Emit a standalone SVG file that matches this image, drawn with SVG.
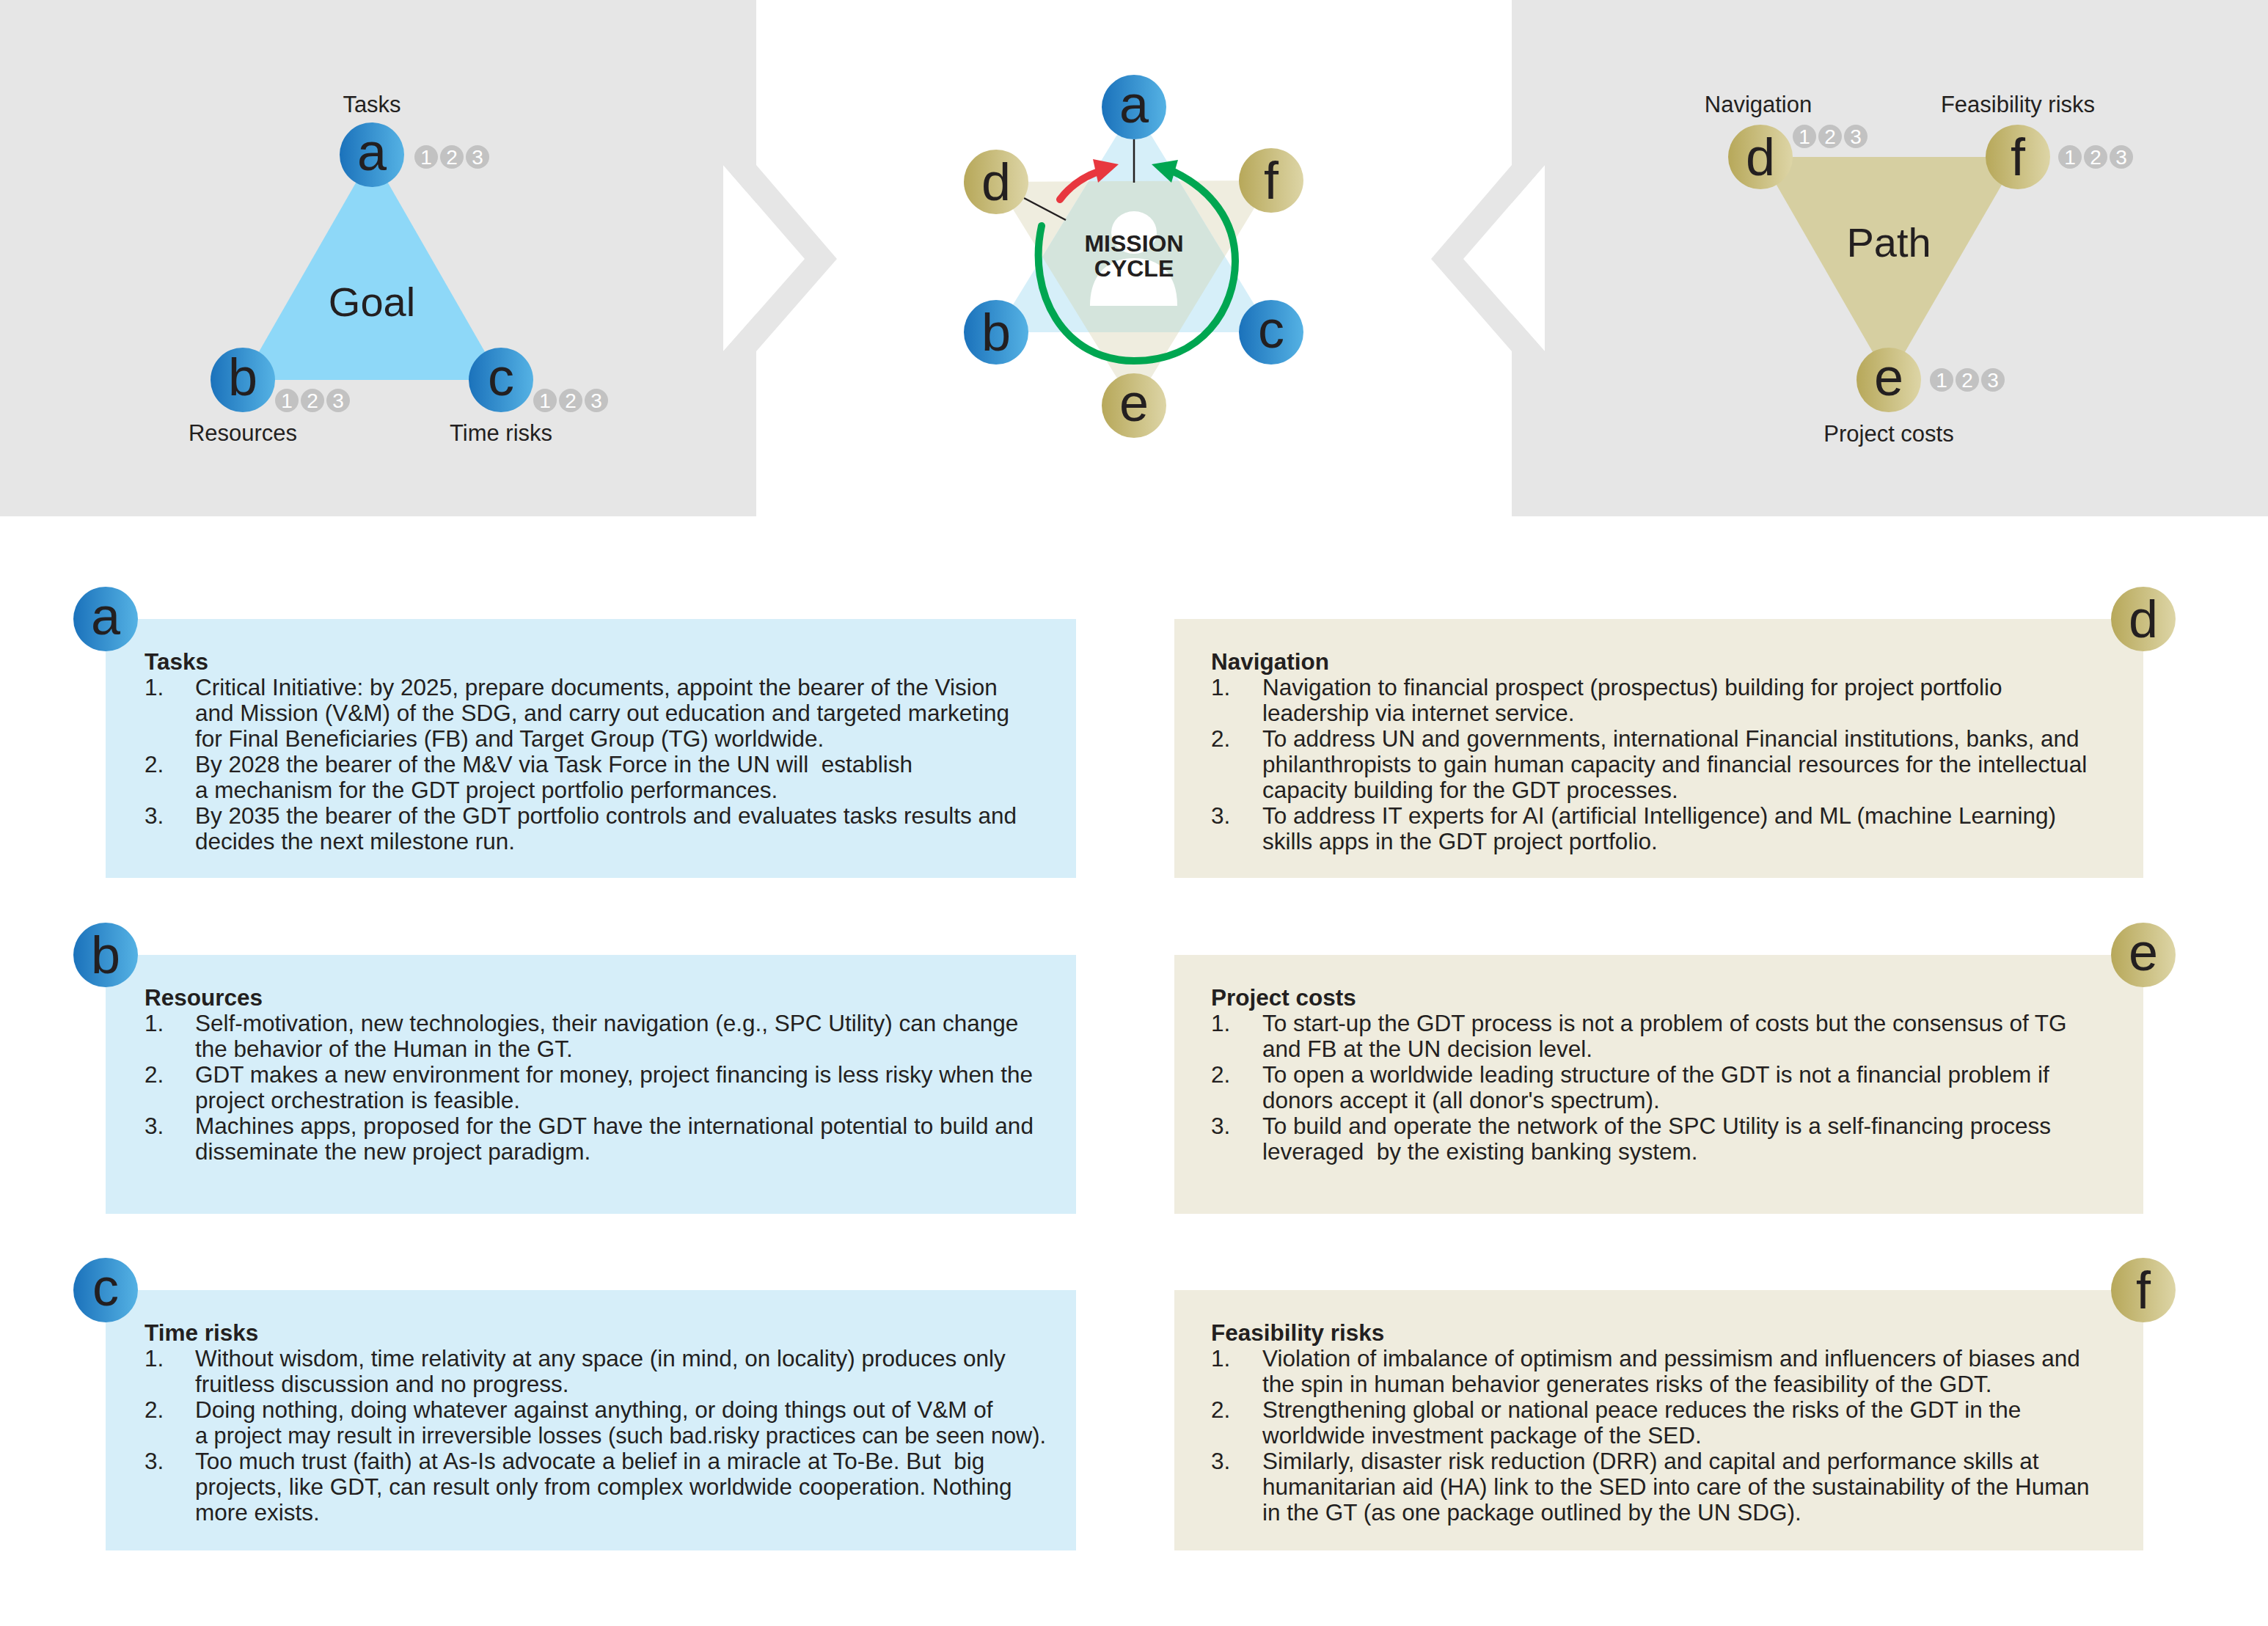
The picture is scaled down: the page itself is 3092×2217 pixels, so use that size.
<svg xmlns="http://www.w3.org/2000/svg" width="3092" height="2217" viewBox="0 0 3092 2217">
<style>
text{font-family:"Liberation Sans",Arial,sans-serif;fill:#231f20}
.lt{font-size:72px;text-anchor:middle}
.lab{font-size:31px;text-anchor:middle}
.big{font-size:56px;text-anchor:middle}
.bd{fill:#c2c2c2}
.bn{font-size:28px;fill:#fff;text-anchor:middle}
.body{font-size:31.5px}
.hd{font-size:31.5px;font-weight:bold}
.mc{font-size:32px;font-weight:bold;text-anchor:middle}
</style>
<defs>
<linearGradient id="gb" x1="0" y1="0" x2="1" y2="0"><stop offset="0" stop-color="#1b72bb"/><stop offset="1" stop-color="#55b2e4"/></linearGradient>
<linearGradient id="gy" x1="0" y1="0" x2="1" y2="0"><stop offset="0" stop-color="#b7a85a"/><stop offset="1" stop-color="#ddd5a6"/></linearGradient>
<clipPath id="cab"><polygon points="1546,146 1358,453 1733,453"/></clipPath>
<g id="b3"><circle class="bd" cx="0" cy="0" r="16"/><circle class="bd" cx="35" cy="0" r="16"/><circle class="bd" cx="70" cy="0" r="16"/><text class="bn" x="0" y="10">1</text><text class="bn" x="35" y="10">2</text><text class="bn" x="70" y="10">3</text></g>
</defs>
<rect width="3092" height="2217" fill="#fff"/>
<rect x="0" y="0" width="1031" height="704" fill="#e6e6e6"/>
<polygon points="986,225 1097,353 986,479" fill="#fff"/>
<polygon points="986,225 1031,225 1141,353 1031,479 986,479 1097,353" fill="#e6e6e6"/>
<rect x="2061" y="0" width="1031" height="704" fill="#e6e6e6"/>
<polygon points="2106,225 1995,353 2106,479" fill="#fff"/>
<polygon points="2106,225 2061,225 1951,353 2061,479 2106,479 1995,353" fill="#e6e6e6"/>
<g id="goal"><polygon points="507,211 331,518 683,518" fill="#8ed8f8"/><text class="big" x="507" y="431">Goal</text></g>
<g id="path"><polygon points="2400,214 2751,214 2575,518" fill="#d6cfa1"/><text class="big" x="2575" y="350">Path</text></g>
<g id="tL"><circle cx="507" cy="211" r="44" fill="url(#gb)"/><text class="lt" x="507" y="232">a</text><text class="lab" x="507" y="153">Tasks</text><use href="#b3" x="581" y="214"/></g>
<g id="tLb"><circle cx="331" cy="518" r="44" fill="url(#gb)"/><text class="lt" x="331" y="539">b</text><text class="lab" x="331" y="601">Resources</text><use href="#b3" x="391" y="546"/></g>
<g id="tLc"><circle cx="683" cy="518" r="44" fill="url(#gb)"/><text class="lt" x="683" y="539">c</text><text class="lab" x="683" y="601">Time risks</text><use href="#b3" x="743" y="546"/></g>
<g id="tRd"><circle cx="2400" cy="214" r="44" fill="url(#gy)"/><text class="lt" x="2400" y="239">d</text><text class="lab" x="2397" y="153">Navigation</text><use href="#b3" x="2460" y="186"/></g>
<g id="tRf"><circle cx="2751" cy="214" r="44" fill="url(#gy)"/><text class="lt" x="2751" y="239">f</text><text class="lab" x="2751" y="153">Feasibility risks</text><use href="#b3" x="2822" y="214"/></g>
<g id="tRe"><circle cx="2575" cy="518" r="44" fill="url(#gy)"/><text class="lt" x="2575" y="539">e</text><text class="lab" x="2575" y="602">Project costs</text><use href="#b3" x="2647" y="518"/></g>
<g id="mission">
<polygon points="1358,248 1733,246 1546,553" fill="#efeddf"/>
<polygon points="1546,146 1358,453 1733,453" fill="#d6eff9"/>
<polygon points="1358,248 1733,246 1546,553" fill="#d4e4dc" clip-path="url(#cab)"/>
<ellipse cx="1546" cy="317" rx="31" ry="29" fill="#fff"/>
<path d="M1486 417 C1486 372 1512 352 1546 352 C1580 352 1605 372 1605 417 Z" fill="#fff"/>
<text class="mc" x="1546" y="343">MISSION</text>
<text class="mc" x="1546" y="377">CYCLE</text>
</g>
<g id="connectors">
<line x1="1546" y1="190" x2="1546" y2="249" stroke="#231f20" stroke-width="2.5"/>
<line x1="1396" y1="270" x2="1453" y2="300" stroke="#231f20" stroke-width="2.5"/>
<path d="M1445 272 Q1465 245 1500 233" fill="none" stroke="#e8373f" stroke-width="10" stroke-linecap="round"/>
<polygon points="1490,217 1525,224 1497,249" fill="#e8373f"/>
<path d="M1420 308 C1400 400 1450 492 1546 492 C1640 492 1684 420 1684 356 C1684 300 1650 258 1600 234" fill="none" stroke="#00a651" stroke-width="10" stroke-linecap="round"/>
<polygon points="1570,224 1606,218 1597,249" fill="#00a651"/>
</g>
<g id="mnodes">
<g id="ma"><circle cx="1546" cy="146" r="44" fill="url(#gb)"/><text class="lt" x="1546" y="167">a</text></g>
<g id="mb"><circle cx="1358" cy="453" r="44" fill="url(#gb)"/><text class="lt" x="1358" y="478">b</text></g>
<g id="mc"><circle cx="1733" cy="453" r="44" fill="url(#gb)"/><text class="lt" x="1733" y="474">c</text></g>
<g id="md"><circle cx="1358" cy="248" r="44" fill="url(#gy)"/><text class="lt" x="1358" y="273">d</text></g>
<g id="mf"><circle cx="1733" cy="246" r="44" fill="url(#gy)"/><text class="lt" x="1733" y="271">f</text></g>
<g id="me"><circle cx="1546" cy="553" r="44" fill="url(#gy)"/><text class="lt" x="1546" y="574">e</text></g>
</g>
<g id="boxA"><rect x="144" y="844" width="1323" height="353" fill="#d6eef9"/><circle cx="144" cy="844" r="44" fill="url(#gb)"/><text class="lt" x="144" y="865">a</text>
<text class="hd" x="197" y="913">Tasks</text>
<text class="body" xml:space="preserve"><tspan x="197" y="948">1.</tspan><tspan x="266" y="948">Critical Initiative: by 2025, prepare documents, appoint the bearer of the Vision</tspan><tspan x="266" y="983">and Mission (V&amp;M) of the SDG, and carry out education and targeted marketing</tspan><tspan x="266" y="1018">for Final Beneficiaries (FB) and Target Group (TG) worldwide.</tspan><tspan x="197" y="1053">2.</tspan><tspan x="266" y="1053">By 2028 the bearer of the M&amp;V via Task Force in the UN will  establish</tspan><tspan x="266" y="1088">a mechanism for the GDT project portfolio performances.</tspan><tspan x="197" y="1123">3.</tspan><tspan x="266" y="1123">By 2035 the bearer of the GDT portfolio controls and evaluates tasks results and</tspan><tspan x="266" y="1158">decides the next milestone run.</tspan></text></g>
<g id="boxB"><rect x="144" y="1302" width="1323" height="353" fill="#d6eef9"/><circle cx="144" cy="1302" r="44" fill="url(#gb)"/><text class="lt" x="144" y="1327">b</text>
<text class="hd" x="197" y="1371">Resources</text>
<text class="body"><tspan x="197" y="1406">1.</tspan><tspan x="266" y="1406">Self-motivation, new technologies, their navigation (e.g., SPC Utility) can change</tspan><tspan x="266" y="1441">the behavior of the Human in the GT.</tspan><tspan x="197" y="1476">2.</tspan><tspan x="266" y="1476">GDT makes a new environment for money, project financing is less risky when the</tspan><tspan x="266" y="1511">project orchestration is feasible.</tspan><tspan x="197" y="1546">3.</tspan><tspan x="266" y="1546">Machines apps, proposed for the GDT have the international potential to build and</tspan><tspan x="266" y="1581">disseminate the new project paradigm.</tspan></text></g>
<g id="boxC"><rect x="144" y="1759" width="1323" height="355" fill="#d6eef9"/><circle cx="144" cy="1759" r="44" fill="url(#gb)"/><text class="lt" x="144" y="1780">c</text>
<text class="hd" x="197" y="1828">Time risks</text>
<text class="body" xml:space="preserve"><tspan x="197" y="1863">1.</tspan><tspan x="266" y="1863">Without wisdom, time relativity at any space (in mind, on locality) produces only</tspan><tspan x="266" y="1898">fruitless discussion and no progress.</tspan><tspan x="197" y="1933">2.</tspan><tspan x="266" y="1933">Doing nothing, doing whatever against anything, or doing things out of V&amp;M of</tspan><tspan x="266" y="1968" textLength="1160" lengthAdjust="spacingAndGlyphs">a project may result in irreversible losses (such bad.risky practices can be seen now).</tspan><tspan x="197" y="2003">3.</tspan><tspan x="266" y="2003">Too much trust (faith) at As-Is advocate a belief in a miracle at To-Be. But  big</tspan><tspan x="266" y="2038">projects, like GDT, can result only from complex worldwide cooperation. Nothing</tspan><tspan x="266" y="2073">more exists.</tspan></text></g>
<g id="boxD"><rect x="1601" y="844" width="1321" height="353" fill="#efecde"/><circle cx="2922" cy="844" r="44" fill="url(#gy)"/><text class="lt" x="2922" y="869">d</text>
<text class="hd" x="1651" y="913">Navigation</text>
<text class="body"><tspan x="1651" y="948">1.</tspan><tspan x="1721" y="948">Navigation to financial prospect (prospectus) building for project portfolio</tspan><tspan x="1721" y="983">leadership via internet service.</tspan><tspan x="1651" y="1018">2.</tspan><tspan x="1721" y="1018">To address UN and governments, international Financial institutions, banks, and</tspan><tspan x="1721" y="1053">philanthropists to gain human capacity and financial resources for the intellectual</tspan><tspan x="1721" y="1088">capacity building for the GDT processes.</tspan><tspan x="1651" y="1123">3.</tspan><tspan x="1721" y="1123">To address IT experts for AI (artificial Intelligence) and ML (machine Learning)</tspan><tspan x="1721" y="1158">skills apps in the GDT project portfolio.</tspan></text></g>
<g id="boxE"><rect x="1601" y="1302" width="1321" height="353" fill="#efecde"/><circle cx="2922" cy="1302" r="44" fill="url(#gy)"/><text class="lt" x="2922" y="1323">e</text>
<text class="hd" x="1651" y="1371">Project costs</text>
<text class="body" xml:space="preserve"><tspan x="1651" y="1406">1.</tspan><tspan x="1721" y="1406">To start-up the GDT process is not a problem of costs but the consensus of TG</tspan><tspan x="1721" y="1441">and FB at the UN decision level.</tspan><tspan x="1651" y="1476">2.</tspan><tspan x="1721" y="1476">To open a worldwide leading structure of the GDT is not a financial problem if</tspan><tspan x="1721" y="1511">donors accept it (all donor's spectrum).</tspan><tspan x="1651" y="1546">3.</tspan><tspan x="1721" y="1546">To build and operate the network of the SPC Utility is a self-financing process</tspan><tspan x="1721" y="1581">leveraged  by the existing banking system.</tspan></text></g>
<g id="boxF"><rect x="1601" y="1759" width="1321" height="355" fill="#efecde"/><circle cx="2922" cy="1759" r="44" fill="url(#gy)"/><text class="lt" x="2922" y="1784">f</text>
<text class="hd" x="1651" y="1828">Feasibility risks</text>
<text class="body"><tspan x="1651" y="1863">1.</tspan><tspan x="1721" y="1863">Violation of imbalance of optimism and pessimism and influencers of biases and</tspan><tspan x="1721" y="1898">the spin in human behavior generates risks of the feasibility of the GDT.</tspan><tspan x="1651" y="1933">2.</tspan><tspan x="1721" y="1933">Strengthening global or national peace reduces the risks of the GDT in the</tspan><tspan x="1721" y="1968">worldwide investment package of the SED.</tspan><tspan x="1651" y="2003">3.</tspan><tspan x="1721" y="2003">Similarly, disaster risk reduction (DRR) and capital and performance skills at</tspan><tspan x="1721" y="2038">humanitarian aid (HA) link to the SED into care of the sustainability of the Human</tspan><tspan x="1721" y="2073">in the GT (as one package outlined by the UN SDG).</tspan></text></g>
</svg>
